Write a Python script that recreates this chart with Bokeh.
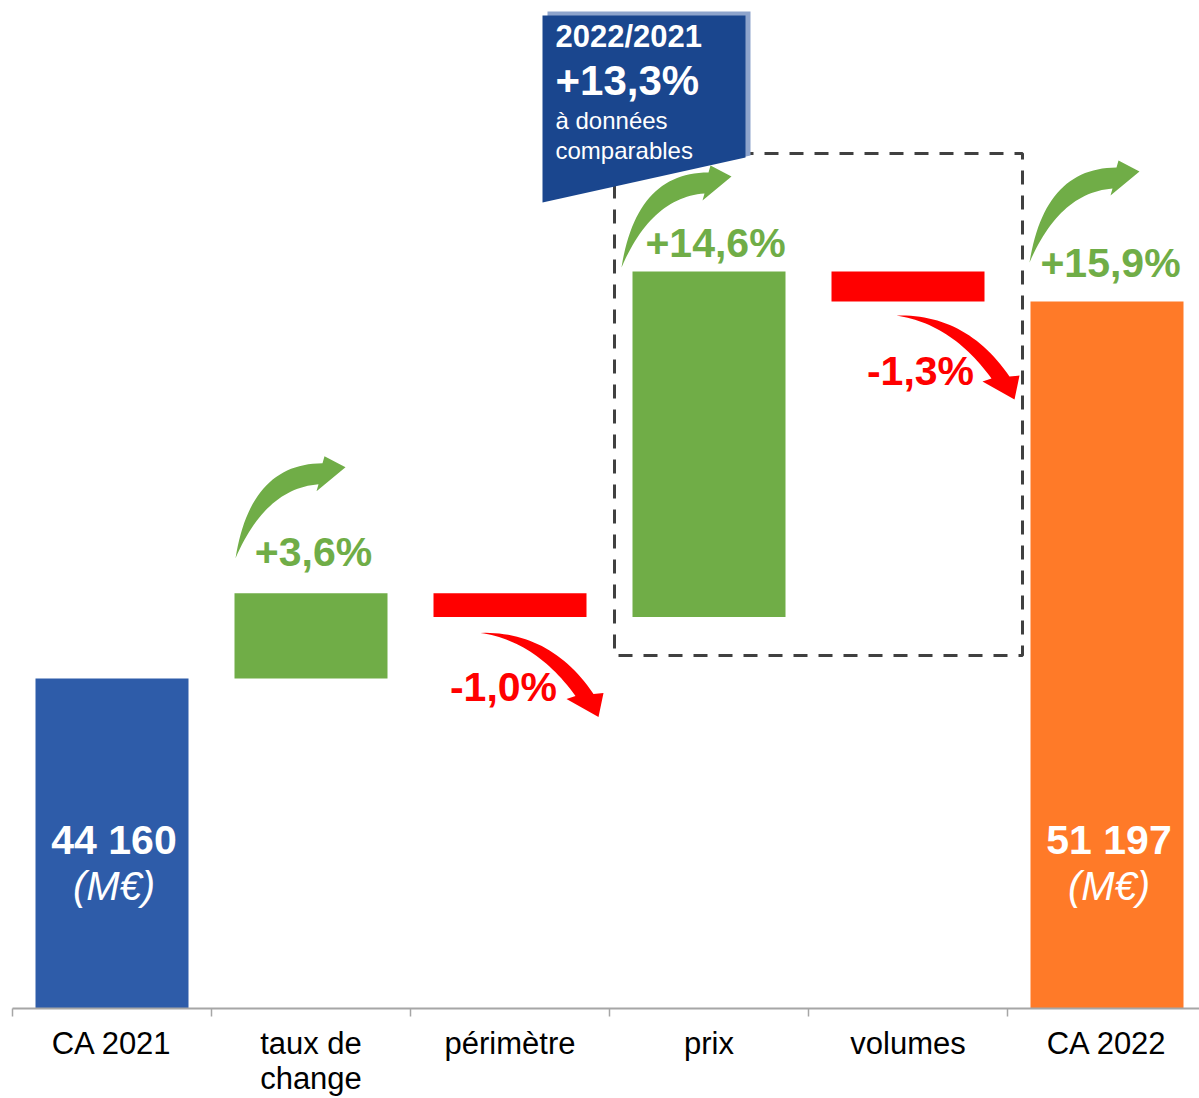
import numpy as np
from bokeh.plotting import figure
from bokeh.models import Range1d, FixedTicker
from bokeh.core.properties import value
from bokeh.embed import file_html
from bokeh.resources import INLINE

# ---------------- data ----------------
categories = ["CA 2021", "taux de\nchange", "périmètre", "prix", "volumes", "CA 2022"]
kinds = ["total", "delta", "delta", "delta", "delta", "total"]
amounts = [44160, 1590, -440, 6450, -563, 51197]          # M€
pct_labels = ["", "+3,6%", "-1,0%", "+14,6%", "-1,3%", "+15,9%"]
total_labels = ["44 160", "", "", "", "", "51 197"]
unit_label = "(M€)"
box_lines = ["2022/2021", "+13,3%", "à données", "comparables"]

# ---------------- styles / layout ----------------
BAR_COLORS = ["#2E5CA9", "#70AD47", "#FF0000", "#70AD47", "#FF0000", "#FF7A28"]
GREEN, RED = "#70AD47", "#FF0000"
FONT = value("Liberation Sans")
W, H = 1199, 1098
LEFT = 12
X_PX = 199.0                      # px per category
FRAME_W = W - LEFT
AXIS_H = 90
FRAME_H = H - AXIS_H
Y_PER_PX = 18.67
Y_START = 44160 - (FRAME_H - 678) * Y_PER_PX
Y_END = Y_START + FRAME_H * Y_PER_PX
BAR_W = 153 / X_PX
BASE_SHIFT = 0.4                  # renderer baseline correction (em)

def fix(dy, fs):
    return dy - BASE_SHIFT * fs

# waterfall geometry
bottoms, tops, ends = [], [], []
level = 0
for k, a in zip(kinds, amounts):
    if k == "total":
        bottoms.append(Y_START); tops.append(a); level = a; ends.append(a)
    else:
        nxt = level + a
        bottoms.append(min(level, nxt)); tops.append(max(level, nxt))
        level = nxt; ends.append(nxt)
xc = [i + 0.5 for i in range(len(categories))]

p = figure(width=W, height=H, x_range=Range1d(0, FRAME_W / X_PX),
           y_range=Range1d(Y_START, Y_END), output_backend="svg",
           toolbar_location=None, y_axis_location=None,
           min_border_left=LEFT, min_border_right=0, min_border_top=0, min_border_bottom=0)
p.outline_line_color = None
p.grid.visible = False
p.background_fill_color = "white"
p.border_fill_color = "white"

p.vbar(x=xc, width=BAR_W, bottom=bottoms, top=tops, fill_color=BAR_COLORS, line_color=None)

def sx(x, dx):
    return x + dx / X_PX

def sy(y, dy):
    return y - dy * Y_PER_PX

def bez(p0, c, p2, n=30):
    t = np.linspace(0, 1, n)
    x = (1 - t) ** 2 * p0[0] + 2 * (1 - t) * t * c[0] + t ** 2 * p2[0]
    y = (1 - t) ** 2 * p0[1] + 2 * (1 - t) * t * c[1] + t ** 2 * p2[1]
    return list(zip(x, y))

UP_ARROW = bez((0, 0), (15, -95), (87, -95)) + [(89, -102), (110, -91), (81, -67)] + bez((83, -74), (30, -70), (0, 0))
DOWN_ARROW = bez((0, 0), (70, -2), (113, 61)) + [(123, 60), (118, 84), (86, 66)] + bez((95, 63), (55, 8), (0, 0))

# arrow tail offsets (px) relative to bar left edge / end level
ARROW_OFF = {1: (1, -35), 2: (47, 16), 3: (-11, -4), 4: (65, 14), 5: (-1, -39)}
# label baseline offsets (px) relative to bar centre / end level
LABEL_OFF = {1: (2.5, -25), 2: (-6.5, 86), 3: (6.5, -12), 4: (12.5, 86), 5: (3.5, -22)}

for i, off in ARROW_OFF.items():
    up = amounts[i] > 0
    shape = UP_ARROW if up else DOWN_ARROW
    ax0 = xc[i] - BAR_W / 2
    ay0 = ends[i]
    xs = [sx(ax0, off[0] + q[0]) for q in shape]
    ys = [sy(ay0, off[1] + q[1]) for q in shape]
    p.patch(xs, ys, fill_color=GREEN if up else RED, line_color=None)

lx, ly, lt, lc, lox, loy = [], [], [], [], [], []
for i, off in LABEL_OFF.items():
    lx.append(xc[i]); ly.append(ends[i]); lt.append(pct_labels[i])
    lc.append(GREEN if amounts[i] > 0 else RED)
    lox.append(off[0]); loy.append(fix(off[1], 41))
p.text(x=lx, y=ly, text=lt, x_offset=lox, y_offset=loy, text_color=lc,
       text_font=FONT, text_font_size="41px", text_font_style="bold",
       text_align="center", text_baseline="alphabetic")

tx = [xc[i] for i in range(len(categories)) if total_labels[i]]
tt = [t for t in total_labels if t]
p.text(x=tx, y=[Y_START] * len(tx), text=tt, x_offset=2, y_offset=fix(-152, 41),
       text_color="white", text_font=FONT, text_font_size="41px", text_font_style="bold",
       text_align="center", text_baseline="alphabetic")
p.text(x=tx, y=[Y_START] * len(tx), text=[unit_label] * len(tx), x_offset=2, y_offset=fix(-107, 40),
       text_color="white", text_font=FONT, text_font_size="40px", text_font_style="italic",
       text_align="center", text_baseline="alphabetic")

# dashed box around "prix" and "volumes"
p.quad(left=[sx(3, 5)], right=[sx(5, 15)], top=[sy(Y_END, 153)], bottom=[sy(Y_END, 655)],
       fill_color=None, line_color="#404040", line_width=3, line_dash="14 11")

# blue comment box
BX = sx(2, 132)
shadow = [(5, 11), (208, 11), (208, 155), (5, 200)]
body = [(0, 15), (203, 15), (203, 157), (0, 202)]
p.patch([sx(BX, q[0]) for q in shadow], [sy(Y_END, q[1]) for q in shadow], fill_color="#8EA4CC", line_color=None)
p.patch([sx(BX, q[0]) for q in body], [sy(Y_END, q[1]) for q in body], fill_color="#1A468E", line_color=None)
box_sizes = [31, 42, 24, 24]
box_styles = ["bold", "bold", "normal", "normal"]
box_dy = [48, 97, 130, 160]
for t, fs, st, dy in zip(box_lines, box_sizes, box_styles, box_dy):
    p.text(x=[BX], y=[Y_END], text=[t], x_offset=13, y_offset=fix(dy, fs), text_color="white",
           text_font=FONT, text_font_size=f"{fs}px", text_font_style=st,
           text_align="left", text_baseline="alphabetic")

# category axis
ax = p.xaxis[0]
ax.ticker = FixedTicker(ticks=xc, minor_ticks=list(range(len(categories) + 1)))
ax.major_label_overrides = {x: c for x, c in zip(xc, categories)}
ax.major_tick_out = 0
ax.major_tick_in = 0
ax.minor_tick_out = 8
ax.minor_tick_in = 0
ax.minor_tick_line_color = "#A6A6A6"
ax.minor_tick_line_width = 1.5
ax.axis_line_color = "#A6A6A6"
ax.axis_line_width = 2
ax.major_label_standoff = 9
ax.major_label_text_font = "Liberation Sans"
ax.major_label_text_font_size = "31px"
ax.major_label_text_color = "#000000"
ax.major_label_text_line_height = 1.0

open("out.html", "w").write(file_html(p, INLINE))
